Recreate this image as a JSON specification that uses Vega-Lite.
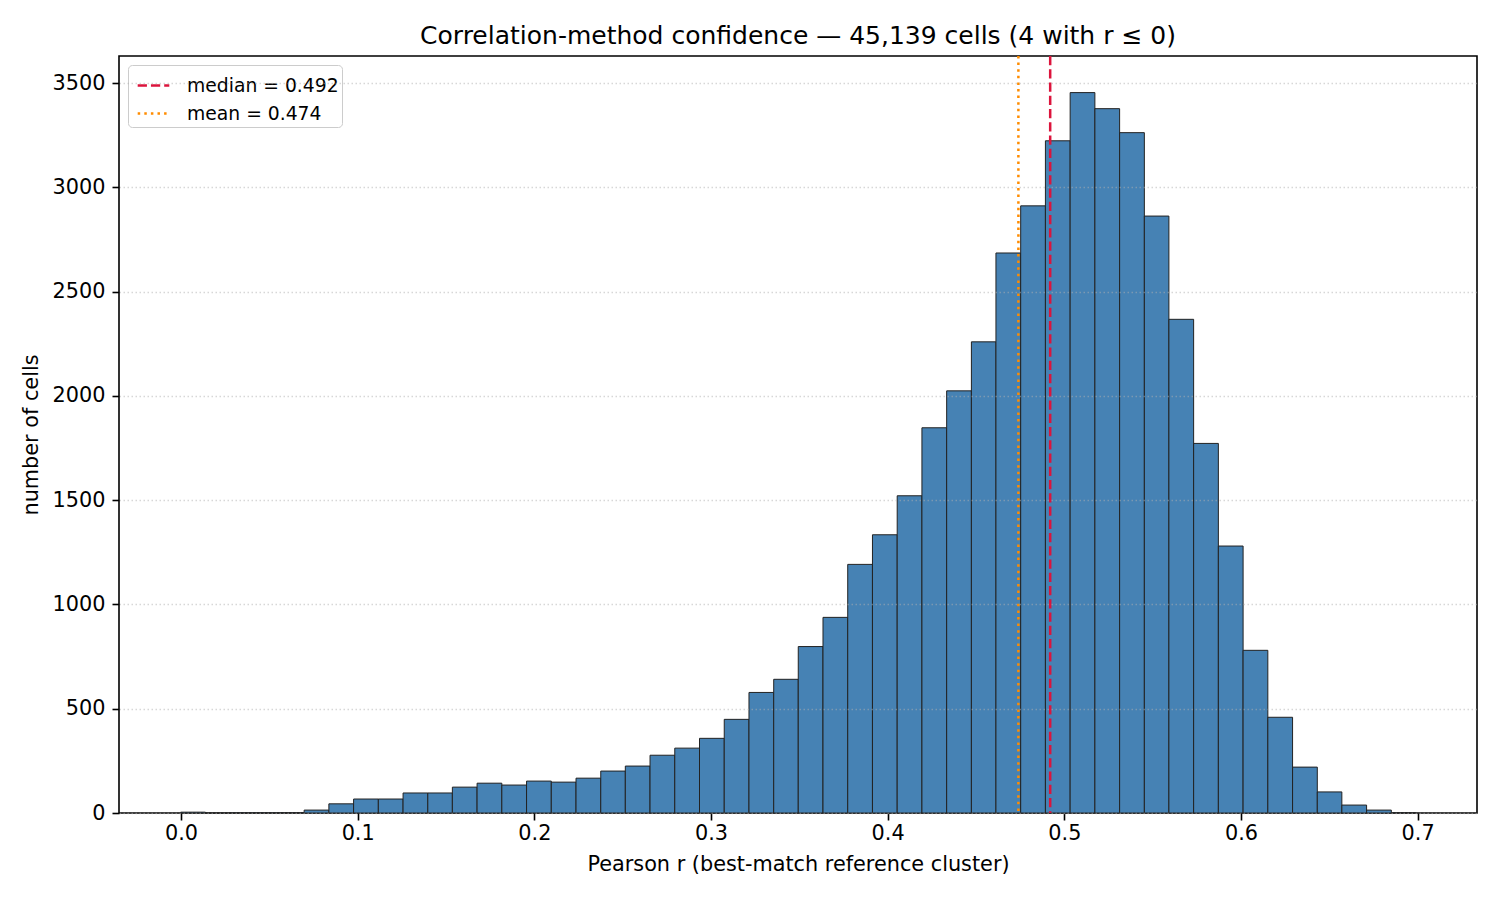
{
  "$schema": "https://vega.github.io/schema/vega-lite/v6.json",
  "autosize": "none",
  "width": 1358,
  "height": 757,
  "padding": {"left": 119, "top": 56, "right": 23, "bottom": 87},
  "background": "white",
  "title": {
    "text": "Correlation-method confidence — 45,139 cells (4 with r ≤ 0)",
    "font": "DejaVu Sans",
    "fontSize": 25,
    "fontWeight": "normal",
    "color": "black",
    "anchor": "middle",
    "offset": 6
  },
  "datasets": {
    "bins": [
      {"bin_start": -0.0002, "bin_end": 0.0138, "count": 4},
      {"bin_start": 0.0138, "bin_end": 0.0278, "count": 0},
      {"bin_start": 0.0278, "bin_end": 0.0418, "count": 1},
      {"bin_start": 0.0418, "bin_end": 0.0557, "count": 1},
      {"bin_start": 0.0557, "bin_end": 0.0697, "count": 2},
      {"bin_start": 0.0697, "bin_end": 0.0837, "count": 14},
      {"bin_start": 0.0837, "bin_end": 0.0977, "count": 44},
      {"bin_start": 0.0977, "bin_end": 0.1117, "count": 67},
      {"bin_start": 0.1117, "bin_end": 0.1257, "count": 67},
      {"bin_start": 0.1257, "bin_end": 0.1397, "count": 96},
      {"bin_start": 0.1397, "bin_end": 0.1536, "count": 96},
      {"bin_start": 0.1536, "bin_end": 0.1676, "count": 124},
      {"bin_start": 0.1676, "bin_end": 0.1816, "count": 143},
      {"bin_start": 0.1816, "bin_end": 0.1956, "count": 134},
      {"bin_start": 0.1956, "bin_end": 0.2096, "count": 153},
      {"bin_start": 0.2096, "bin_end": 0.2236, "count": 148},
      {"bin_start": 0.2236, "bin_end": 0.2376, "count": 167},
      {"bin_start": 0.2376, "bin_end": 0.2515, "count": 201},
      {"bin_start": 0.2515, "bin_end": 0.2655, "count": 225},
      {"bin_start": 0.2655, "bin_end": 0.2795, "count": 277},
      {"bin_start": 0.2795, "bin_end": 0.2935, "count": 311},
      {"bin_start": 0.2935, "bin_end": 0.3075, "count": 358},
      {"bin_start": 0.3075, "bin_end": 0.3215, "count": 449},
      {"bin_start": 0.3215, "bin_end": 0.3355, "count": 578},
      {"bin_start": 0.3355, "bin_end": 0.3494, "count": 641},
      {"bin_start": 0.3494, "bin_end": 0.3634, "count": 798},
      {"bin_start": 0.3634, "bin_end": 0.3774, "count": 938},
      {"bin_start": 0.3774, "bin_end": 0.3914, "count": 1192},
      {"bin_start": 0.3914, "bin_end": 0.4054, "count": 1334},
      {"bin_start": 0.4054, "bin_end": 0.4194, "count": 1521},
      {"bin_start": 0.4194, "bin_end": 0.4334, "count": 1847},
      {"bin_start": 0.4334, "bin_end": 0.4474, "count": 2024},
      {"bin_start": 0.4474, "bin_end": 0.4613, "count": 2259},
      {"bin_start": 0.4613, "bin_end": 0.4753, "count": 2685},
      {"bin_start": 0.4753, "bin_end": 0.4893, "count": 2911},
      {"bin_start": 0.4893, "bin_end": 0.5033, "count": 3223},
      {"bin_start": 0.5033, "bin_end": 0.5173, "count": 3454},
      {"bin_start": 0.5173, "bin_end": 0.5313, "count": 3377},
      {"bin_start": 0.5313, "bin_end": 0.5453, "count": 3262},
      {"bin_start": 0.5453, "bin_end": 0.5592, "count": 2862},
      {"bin_start": 0.5592, "bin_end": 0.5732, "count": 2367},
      {"bin_start": 0.5732, "bin_end": 0.5872, "count": 1772},
      {"bin_start": 0.5872, "bin_end": 0.6012, "count": 1280},
      {"bin_start": 0.6012, "bin_end": 0.6152, "count": 780},
      {"bin_start": 0.6152, "bin_end": 0.6292, "count": 459},
      {"bin_start": 0.6292, "bin_end": 0.6432, "count": 220},
      {"bin_start": 0.6432, "bin_end": 0.6571, "count": 101},
      {"bin_start": 0.6571, "bin_end": 0.6711, "count": 38},
      {"bin_start": 0.6711, "bin_end": 0.6851, "count": 14},
      {"bin_start": 0.6851, "bin_end": 0.6991, "count": 2}
    ],
    "stats": [
      {"label": "median = 0.492", "r": 0.492},
      {"label": "mean = 0.474", "r": 0.474}
    ]
  },
  "layer": [
    {
      "data": {"name": "bins"},
      "mark": {"type": "rect", "color": "#4682b4", "stroke": "#222222", "strokeWidth": 1},
      "encoding": {
        "x": {
          "field": "bin_start",
          "type": "quantitative",
          "title": "Pearson r (best-match reference cluster)",
          "scale": {"domain": [-0.0351, 0.7336], "nice": false, "zero": false},
          "axis": {
            "values": [0, 0.1, 0.2, 0.3, 0.4, 0.5, 0.6, 0.7],
            "format": ".1f",
            "grid": false,
            "labelPadding": 3,
            "titlePadding": 12
          }
        },
        "x2": {"field": "bin_end"},
        "y": {
          "field": "count",
          "type": "quantitative",
          "title": "number of cells",
          "scale": {"domain": [0, 3629.5], "nice": false},
          "axis": {
            "values": [0, 500, 1000, 1500, 2000, 2500, 3000, 3500],
            "format": "d",
            "grid": true,
            "gridColor": "#b0b0b0",
            "gridOpacity": 0.5,
            "gridWidth": 1.4,
            "gridDash": [1.5, 2.5],
            "zindex": 1,
            "labelPadding": 7,
            "titlePadding": 11
          }
        },
        "y2": {"datum": 0}
      }
    },
    {
      "data": {"name": "stats"},
      "mark": {"type": "rule", "strokeWidth": 2.5},
      "encoding": {
        "x": {"field": "r", "type": "quantitative"},
        "color": {
          "field": "label",
          "type": "nominal",
          "scale": {"domain": ["median = 0.492", "mean = 0.474"], "range": ["#dc143c", "#ff8c00"]},
          "title": null
        },
        "strokeDash": {
          "field": "label",
          "type": "nominal",
          "scale": {"domain": ["median = 0.492", "mean = 0.474"], "range": [[9.25, 4], [2.5, 4.1]]},
          "title": null
        }
      }
    }
  ],
  "config": {
    "font": "DejaVu Sans",
    "view": {"stroke": "black", "strokeWidth": 1.6},
    "axis": {
      "domain": false,
      "labelFont": "DejaVu Sans",
      "titleFont": "DejaVu Sans",
      "labelFontSize": 20.8,
      "titleFontSize": 20.8,
      "labelColor": "black",
      "titleColor": "black",
      "titleFontWeight": "normal",
      "tickColor": "black",
      "tickSize": 7,
      "tickWidth": 1.6
    },
    "legend": {
      "orient": "top-left",
      "offset": 9,
      "padding": 3,
      "fillColor": "rgba(255,255,255,0.8)",
      "strokeColor": "#cccccc",
      "cornerRadius": 4,
      "symbolType": "stroke",
      "symbolSize": 1000,
      "symbolStrokeWidth": 2.5,
      "symbolOffset": 5,
      "labelFont": "DejaVu Sans",
      "labelFontSize": 18.75,
      "labelColor": "black",
      "labelOffset": 16,
      "rowPadding": -4,
      "labelLimit": 400
    }
  }
}
